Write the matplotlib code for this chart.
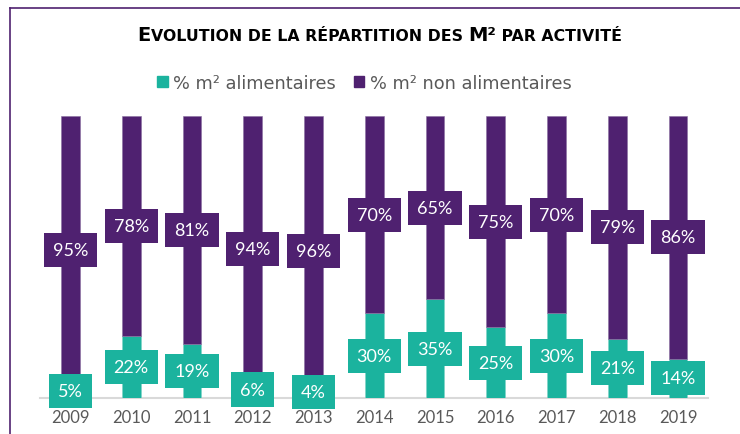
import numpy as np
import matplotlib
matplotlib.use("Agg")
import matplotlib.pyplot as plt
from matplotlib.lines import Line2D
from matplotlib.patches import Rectangle

plt.rcParams['font.family'] = ['Lato', 'DejaVu Sans']

years = ['2009', '2010', '2011', '2012', '2013', '2014', '2015', '2016', '2017', '2018', '2019']
alim = [5, 22, 19, 6, 4, 30, 35, 25, 30, 21, 14]
non_alim = [95, 78, 81, 94, 96, 70, 65, 75, 70, 79, 86]

teal = '#1BB39E'
purple = '#4F2170'
grey = '#595959'

fig = plt.figure(figsize=(7.4, 4.35), dpi=100)
ax = fig.add_axes([0.0542, 0.0828, 0.9031, 0.6482])

x = np.arange(len(years))
w = 0.31
ax.bar(x, alim, w, color=teal, edgecolor='#7fd3c6', linewidth=0.4, zorder=2)
ax.bar(x, non_alim, w, bottom=alim, color=purple, edgecolor='#8a6fa0', linewidth=0.4, zorder=2)

# labels in boxes
for i in range(len(years)):
    ax.text(x[i], alim[i] / 2, f'{alim[i]}%', ha='center', va='center', color='white',
            fontsize=13, zorder=3,
            bbox=dict(boxstyle='square,pad=0.5', fc=teal, ec='none'))
    ax.text(x[i], alim[i] + non_alim[i] / 2, f'{non_alim[i]}%', ha='center', va='center',
            color='white', fontsize=13, zorder=3,
            bbox=dict(boxstyle='square,pad=0.5', fc=purple, ec='none'))

ax.set_xlim(-0.5, len(years) - 0.5)
ax.set_ylim(0, 100)
ax.set_xticks(x)
ax.set_xticklabels(years, fontsize=12, color=grey)
ax.tick_params(axis='x', length=0, pad=8)
ax.set_yticks([])
for s in ['top', 'right', 'left']:
    ax.spines[s].set_visible(False)
ax.spines['bottom'].set_color('#d9d9d9')
ax.spines['bottom'].set_linewidth(1.5)
ax.spines['bottom'].set_zorder(1)

# legend
ax.legend(handles=[Rectangle((0, 0), 1, 1, color=teal), Rectangle((0, 0), 1, 1, color=purple)],
          labels=['% m² alimentaires', '% m² non alimentaires'],
          loc='center', bbox_to_anchor=(0.485, 1.117), ncol=2, frameon=False,
          prop={'family': 'DejaVu Sans', 'size': 12.8}, labelcolor=grey,
          handlelength=0.6, handleheight=0.6, handletextpad=0.3, columnspacing=1.0)

# title in small caps
title = 'Evolution de la répartition des M² par activité'
big, small = 14, 11.3
runs = []
for ch in title:
    sz = big if (ch.isupper() or ch == '²') else small
    c = ch.upper()
    if runs and runs[-1][1] == sz:
        runs[-1][0] += c
    else:
        runs.append([c, sz])
renderer = fig.canvas.get_renderer()
texts = []
total = 0
for s, sz in runs:
    t = fig.text(0, 0.9064, s, fontsize=sz, fontweight='bold', color='black',
                 family='DejaVu Sans', ha='left', va='baseline')
    wpx = t.get_window_extent(renderer).width
    texts.append((t, wpx))
    total += wpx
xpos = 380 - total / 2
for t, wpx in texts:
    t.set_x(xpos / 740)
    xpos += wpx

# border lines
fig.add_artist(Line2D([10 / 740, 10 / 740], [0, 1 - 9 / 435], color=purple, lw=1.2))
fig.add_artist(Line2D([10 / 740, 1], [1 - 9 / 435, 1 - 9 / 435], color=purple, lw=1.2))

fig.savefig('out.png', dpi=100)
